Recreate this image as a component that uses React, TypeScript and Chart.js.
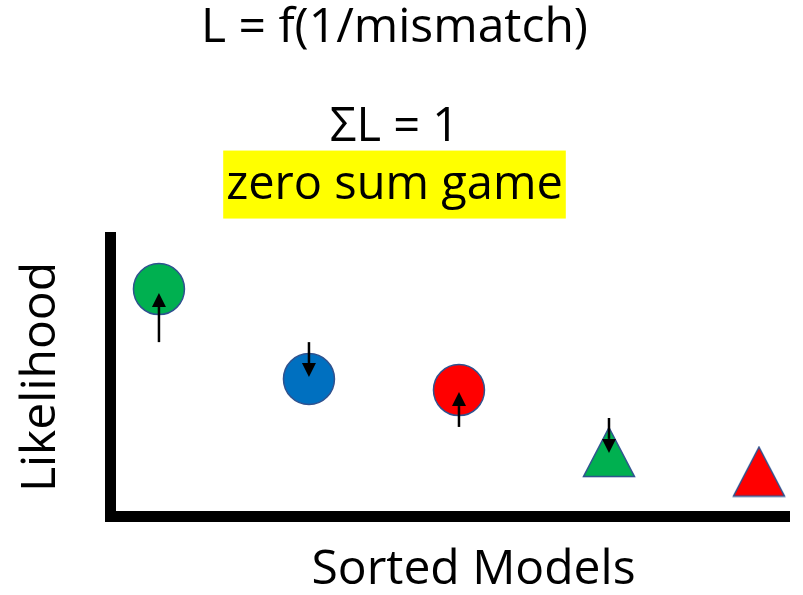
import React, { useEffect, useRef } from 'react';
import { Chart, registerables } from 'chart.js';

Chart.register(...registerables);

// ---- data ----
const models = [1, 2, 3, 4, 5];
const likelihood = [0.815, 0.493, 0.453, 0.231, 0.161];
const shapes = ['circle', 'circle', 'circle', 'triangle', 'triangle'];
const fills = ['#00B050', '#0070C0', '#FF0000', '#00B050', '#FF0000'];
const arrowFrom: (number | null)[] = [0.625, 0.625, 0.321, 0.353, null];
const arrowTo: (number | null)[] = [0.801, 0.5, 0.446, 0.228, null];

const titleText = 'L = f(1/mismatch)';
const subtitleLines = ['ΣL = 1', 'zero sum game'];
const highlightLine = 'zero sum game';
const xTitle = 'Sorted Models';
const yTitle = 'Likelihood';

const FONT = '"Open Sans"';
const OUTLINE = '#2F528F';

function makeTriangle(fill: string): HTMLCanvasElement {
  const c = document.createElement('canvas');
  c.width = 54;
  c.height = 52;
  const ctx = c.getContext('2d')!;
  ctx.beginPath();
  ctx.moveTo(27, 1.5);
  ctx.lineTo(52.5, 50.5);
  ctx.lineTo(1.5, 50.5);
  ctx.closePath();
  ctx.fillStyle = fill;
  ctx.fill();
  ctx.lineWidth = 1.5;
  ctx.strokeStyle = OUTLINE;
  ctx.stroke();
  return c;
}

const highlightPlugin = {
  id: 'highlight',
  beforeDraw(chart: any) {
    const box = chart.boxes.find(
      (b: any) => b.options && Array.isArray(b.options.text) && b.options.text.includes(highlightLine)
    );
    if (!box) return;
    const ctx = chart.ctx;
    const size = box.options.font.size;
    const lh = size * box.options.font.lineHeight;
    const idx = box.options.text.indexOf(highlightLine);
    ctx.save();
    ctx.font = `${size}px ${FONT}`;
    const w = ctx.measureText(highlightLine).width;
    const cx = (box.left + box.right) / 2;
    const cy = box.top + box.options.padding.top + lh / 2 + idx * lh;
    ctx.fillStyle = '#FFFF00';
    ctx.fillRect(cx - w / 2 - 3, cy - 35, w + 6, 68);
    ctx.restore();
  },
};

const arrowsPlugin = {
  id: 'arrows',
  afterDatasetsDraw(chart: any) {
    const { ctx, scales } = chart;
    const xs = scales.x;
    const ys = scales.y;
    ctx.save();
    ctx.strokeStyle = '#000';
    ctx.fillStyle = '#000';
    ctx.lineWidth = 2.5;
    models.forEach((m, i) => {
      const f = arrowFrom[i];
      const t = arrowTo[i];
      if (f == null || t == null) return;
      const x = xs.getPixelForValue(m);
      const y1 = ys.getPixelForValue(f);
      const y2 = ys.getPixelForValue(t);
      const dir = y2 < y1 ? -1 : 1;
      const head = 14;
      const half = 7;
      ctx.beginPath();
      ctx.moveTo(x, y1);
      ctx.lineTo(x, y2 - dir * head);
      ctx.stroke();
      ctx.beginPath();
      ctx.moveTo(x, y2);
      ctx.lineTo(x - half, y2 - dir * head);
      ctx.lineTo(x + half, y2 - dir * head);
      ctx.closePath();
      ctx.fill();
    });
    ctx.restore();
  },
};

const xTitlePlugin = {
  id: 'xTitle',
  afterDraw(chart: any) {
    const ctx = chart.ctx;
    const area = chart.chartArea;
    ctx.save();
    ctx.font = `48px ${FONT}`;
    ctx.fillStyle = '#000';
    ctx.textAlign = 'center';
    ctx.textBaseline = 'alphabetic';
    const cx = area.left + (area.right - area.left) * 0.535;
    ctx.fillText(xTitle, cx, chart.height - 11.5);
    ctx.restore();
  },
};

export default function App() {
  const ref = useRef<HTMLCanvasElement | null>(null);

  useEffect(() => {
    if (!ref.current) return;
    const styles = shapes.map((s, i) => (s === 'triangle' ? makeTriangle(fills[i]) : 'circle'));
    const chart = new Chart(ref.current, {
      type: 'scatter',
      data: {
        datasets: [
          {
            data: models.map((m, i) => ({ x: m, y: likelihood[i] })),
            pointStyle: styles as any,
            pointRadius: 25.5,
            pointHoverRadius: 25.5,
            backgroundColor: fills,
            borderColor: OUTLINE,
            borderWidth: 1.5,
          },
        ],
      },
      options: {
        animation: false,
        responsive: false,
        devicePixelRatio: 1,
        events: [],
        layout: { padding: { left: 0, right: 14, top: 0, bottom: 0 }, autoPadding: false },
        plugins: {
          legend: { display: false },
          tooltip: { enabled: false },
          title: {
            display: true,
            text: titleText,
            color: '#000',
            font: { family: FONT, size: 48, weight: 'normal', lineHeight: 1 },
            padding: { top: 4, bottom: 47 },
          },
          subtitle: {
            display: true,
            text: subtitleLines,
            color: '#000',
            font: { family: FONT, size: 47, weight: 'normal', lineHeight: 1.2277 },
            padding: { top: 0, bottom: 23.1 },
          },
        },
        scales: {
          x: {
            type: 'linear',
            min: 0.677,
            max: 5.2,
            ticks: { display: false },
            grid: { display: false },
            border: { display: true, width: 11, color: '#000' },
            afterFit: (s: any) => {
              s.height = 78.5;
            },
          },
          y: {
            type: 'linear',
            min: 0,
            max: 1,
            ticks: { display: false },
            grid: { display: false },
            border: { display: true, width: 11, color: '#000' },
            title: {
              display: true,
              text: yTitle,
              color: '#000',
              font: { family: FONT, size: 48, weight: 'normal', lineHeight: 1 },
              padding: { top: 17.4, bottom: 0 },
            },
            afterFit: (s: any) => {
              s.width = 110.5;
            },
          },
        },
      },
      plugins: [highlightPlugin, arrowsPlugin, xTitlePlugin],
    });
    return () => chart.destroy();
  }, []);

  return (
    <div style={{ position: 'fixed', left: 0, top: 0, width: 803, height: 595, background: '#fff' }}>
      <canvas ref={ref} width={803} height={595} />
    </div>
  );
}
